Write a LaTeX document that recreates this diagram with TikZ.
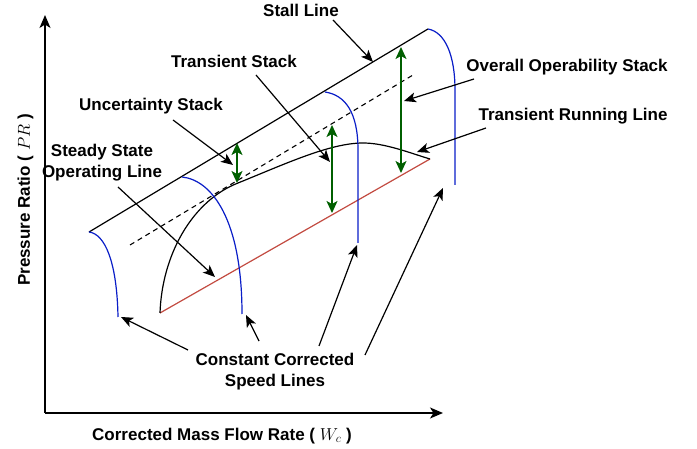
\documentclass[tikz,border=0pt]{standalone}
\usepackage{fontspec}
\setmainfont{Liberation Sans}
\usetikzlibrary{arrows.meta}
\definecolor{speedblue}{RGB}{10,30,200}
\definecolor{stackgreen}{RGB}{0,95,0}
\definecolor{oplred}{RGB}{195,75,65}
\begin{document}
\begin{tikzpicture}[x=1pt,y=-1pt,
  lbl/.style={font=\fontsize{17}{21}\selectfont\bfseries, anchor=base, inner sep=0pt, align=center},
  pointer/.style={black, line width=1.2pt, -{Stealth[length=12pt,width=10pt,inset=3pt]}},
  axis/.style={black, line width=1.4pt, -{Stealth[length=13pt,width=11pt,inset=3.5pt]}},
  speed/.style={speedblue, line width=1.2pt},
  stack/.style={stackgreen, line width=1.6pt, {Stealth[length=12pt,width=11pt,inset=3pt]}-{Stealth[length=12pt,width=11pt,inset=3pt]}},
  curve/.style={black, line width=1.2pt}]
\useasboundingbox (0,0) rectangle (697,449);
\fill[white] (0,0) rectangle (697,449);

% axes
\coordinate (O) at (45,413);
\coordinate (ytop) at (45,15);
\coordinate (xend) at (443,413);
\draw[axis] (O) -- (ytop);
\draw[axis] (O) -- (xend);

% stall line
\coordinate (s1) at (89,232);
\coordinate (s2) at (428,29);
\draw[curve] (s1) -- (s2);

% dashed line
\coordinate (d1) at (130,245);
\coordinate (d2) at (413,75);
\draw[black, line width=1.1pt, dash pattern=on 5pt off 4pt] (d1) -- (d2);

% steady state operating line (red)
\coordinate (r1) at (160,313);
\coordinate (r2) at (430,159);
\draw[oplred, line width=1.2pt] (r1) -- (r2);

% transient running line
\coordinate (t2) at (238,183);
\coordinate (t3) at (363,143);
\draw[curve] (r1) .. controls (162,255) and (192,201) .. (t2)
  .. controls (285,164) and (330,143) .. (t3)
  .. controls (385,143) and (410,153) .. (r2);

% constant speed lines
\coordinate (b1e) at (118,317);
\coordinate (b2s) at (182,177);
\coordinate (b2e) at (242,314);
\coordinate (b3s) at (325,92);
\coordinate (b3m) at (358,150);
\coordinate (b3e) at (358,243);
\coordinate (b4m) at (455,90);
\coordinate (b4e) at (455,185);
\draw[speed] (s1) .. controls (105,234) and (117,262) .. (b1e);
\draw[speed] (b2s) .. controls (212,180) and (242,220) .. (b2e);
\draw[speed] (b3s) .. controls (345,95) and (358,112) .. (b3m) -- (b3e);
\draw[speed] (s2) .. controls (445,32) and (455,55) .. (b4m) -- (b4e);

% stacks
\coordinate (u1) at (237,143);
\coordinate (u2) at (237,183);
\coordinate (ts1) at (332,125);
\coordinate (ts2) at (332,213);
\coordinate (ov1) at (401,47);
\coordinate (ov2) at (401,173);
\draw[stack] (u1) -- (u2);
\draw[stack] (ts1) -- (ts2);
\draw[stack] (ov1) -- (ov2);

% labels
\node[lbl] (lstall) at (301,17) {Stall Line};
\node[lbl] (ltrans) at (234,68) {Transient Stack};
\node[lbl] (lunc) at (151,111) {Uncertainty Stack};
\node[lbl] (lsteady) at (102,178) {Steady State\\Operating Line};
\node[lbl] (lover) at (567,72) {Overall Operability Stack};
\node[lbl] (lrun) at (573,121) {Transient Running Line};
\node[lbl] (lspeed) at (275,387) {Constant Corrected\\Speed Lines};
\node[lbl] (lx) at (222,440) {Corrected Mass Flow Rate ( $W_c$ )};
\node[lbl, rotate=90] (ly) at (30,200) {Pressure Ratio ( $PR$ )};

% pointers
\coordinate (p1a) at (333,20);   \coordinate (p1b) at (373,62);
\coordinate (p2a) at (256,75);   \coordinate (p2b) at (330,162);
\coordinate (p3a) at (173,120);  \coordinate (p3b) at (233,165);
\coordinate (p4a) at (118,187);  \coordinate (p4b) at (215,277);
\coordinate (p5a) at (474,79);   \coordinate (p5b) at (404,101);
\coordinate (p6a) at (486,128);  \coordinate (p6b) at (417,152);
\coordinate (p7a) at (188,350);  \coordinate (p7b) at (121,317);
\coordinate (p8a) at (259,341);  \coordinate (p8b) at (246,315);
\coordinate (p9a) at (319,346);  \coordinate (p9b) at (357,245);
\coordinate (p10a) at (365,355); \coordinate (p10b) at (443,188);
\draw[pointer] (p1a) -- (p1b);
\draw[pointer] (p2a) -- (p2b);
\draw[pointer] (p3a) -- (p3b);
\draw[pointer] (p4a) -- (p4b);
\draw[pointer] (p5a) -- (p5b);
\draw[pointer] (p6a) -- (p6b);
\draw[pointer] (p7a) -- (p7b);
\draw[pointer] (p8a) -- (p8b);
\draw[pointer] (p9a) -- (p9b);
\draw[pointer] (p10a) -- (p10b);
\end{tikzpicture}
\end{document}
